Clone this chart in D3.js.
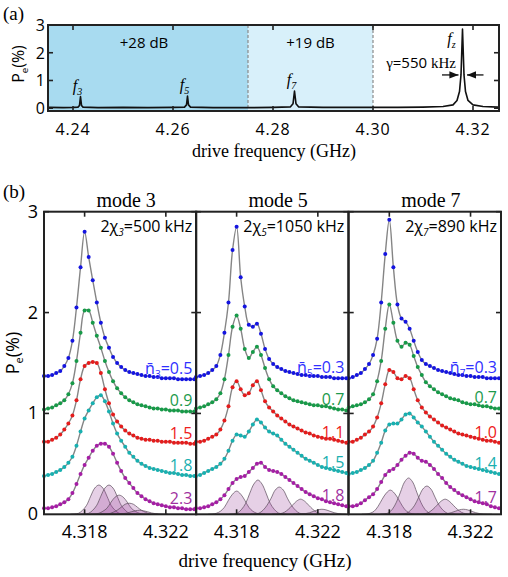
<!DOCTYPE html>
<html>
<head>
<meta charset="utf-8">
<script src="https://cdn.jsdelivr.net/npm/d3@7"></script>
<style>body{margin:0;background:#fff}</style>
</head>
<body>
<div id="container"></div>
<script>
let w = 508;
let h = 577;
let sans = "'Open Sans', sans-serif";
let serif = "'Liberation Serif', serif";

// ---- panel (a): wide sweep ----
let aFreq = [4.2352,4.2380,4.2400,4.2410,4.2413,4.2415,4.2417,4.2420,4.2450,4.2500,4.2550,4.2600,4.2623,4.2627,4.2629,4.2631,4.2635,4.2680,4.2750,4.2800,4.2835,4.2840,4.2843,4.2846,4.2851,4.2900,4.2950,4.3000,4.3050,4.3100,4.3140,4.3160,4.3168,4.3173,4.3176,4.3179,4.3182,4.3185,4.3190,4.3200,4.3220,4.3250];
let aVal  = [0.03,0.02,0.03,0.04,0.10,0.42,0.10,0.04,0.02,0.03,0.02,0.03,0.04,0.12,0.44,0.12,0.04,0.02,0.02,0.03,0.05,0.16,0.62,0.16,0.05,0.03,0.03,0.03,0.03,0.04,0.06,0.12,0.28,0.60,1.20,2.85,1.20,0.60,0.28,0.12,0.06,0.04];
let aXTicks = [4.24, 4.26, 4.28, 4.30, 4.32];
let aYTicks = [0, 1, 2, 3];
let bandEdges = [4.235, 4.275, 4.30];
let bandLabels = ["+28 dB", "+19 dB"];
let peakFreq = [4.2415, 4.2629, 4.2843, 4.3179];
let peakHeight = [0.42, 0.44, 0.62, 2.85];
let peakSub = ["3", "5", "7", "z"];

// ---- panel (b): zoom on f_z for three modes ----
let bFreq = [4.3160,4.3162,4.3164,4.3166,4.3168,4.3170,4.3172,4.3174,4.3176,4.3178,4.3180,4.3182,4.3184,4.3186,4.3188,4.3190,4.3192,4.3194,4.3196,4.3198,4.3200,4.3202,4.3204,4.3206,4.3208,4.3210,4.3212,4.3214,4.3216,4.3218,4.3220,4.3222,4.3224,4.3226,4.3228,4.3230,4.3232,4.3234];
let bXTicks = [4.318, 4.322];
let bYTicks = [1, 2, 3];
let modes = ["3", "5", "7"];
let chiText = ["500", "1050", "890"];
let nbar = [["0.5","0.9","1.5","1.8","2.3"], ["0.3","0.7","1.1","1.5","1.8"], ["0.3","0.7","1.0","1.4","1.7"]];

let mode3 = [
  [1.37,1.37,1.38,1.40,1.42,1.47,1.55,1.72,2.05,2.45,2.80,2.55,2.32,2.10,1.90,1.75,1.65,1.56,1.50,1.46,1.43,1.41,1.40,1.39,1.38,1.37,1.37,1.36,1.36,1.35,1.35,1.35,1.35,1.34,1.34,1.34,1.34,1.34],
  [1.04,1.05,1.06,1.08,1.10,1.13,1.19,1.30,1.52,1.80,2.02,2.02,1.90,1.77,1.65,1.52,1.41,1.32,1.25,1.20,1.16,1.13,1.11,1.09,1.08,1.07,1.06,1.05,1.05,1.04,1.04,1.03,1.03,1.03,1.02,1.02,1.02,1.02],
  [0.72,0.72,0.74,0.76,0.79,0.84,0.90,0.98,1.13,1.34,1.47,1.50,1.51,1.50,1.40,1.24,1.10,0.99,0.92,0.87,0.83,0.80,0.78,0.76,0.75,0.74,0.74,0.73,0.73,0.72,0.72,0.72,0.71,0.71,0.71,0.71,0.70,0.70],
  [0.38,0.39,0.40,0.42,0.44,0.47,0.51,0.57,0.68,0.82,0.95,1.03,1.10,1.16,1.18,1.12,1.02,0.90,0.80,0.73,0.67,0.61,0.57,0.53,0.50,0.48,0.46,0.45,0.44,0.43,0.42,0.41,0.41,0.40,0.39,0.39,0.38,0.38],
  [0.06,0.06,0.07,0.08,0.10,0.12,0.15,0.21,0.30,0.40,0.49,0.56,0.63,0.68,0.70,0.70,0.67,0.60,0.51,0.43,0.36,0.31,0.26,0.21,0.18,0.15,0.13,0.11,0.10,0.09,0.08,0.07,0.07,0.06,0.06,0.05,0.05,0.05]
];
let mode5 = [
  [1.36,1.37,1.38,1.40,1.43,1.47,1.58,1.80,2.10,2.62,2.85,2.35,2.06,1.88,1.86,1.89,1.79,1.64,1.54,1.49,1.46,1.44,1.42,1.41,1.40,1.39,1.38,1.38,1.37,1.37,1.37,1.36,1.36,1.36,1.35,1.35,1.35,1.35],
  [1.05,1.06,1.07,1.09,1.11,1.14,1.20,1.34,1.58,1.86,1.97,1.84,1.64,1.55,1.61,1.66,1.58,1.45,1.34,1.27,1.23,1.20,1.17,1.15,1.13,1.12,1.11,1.10,1.09,1.08,1.08,1.07,1.07,1.06,1.05,1.04,1.04,1.03],
  [0.72,0.72,0.73,0.75,0.77,0.79,0.84,0.93,1.07,1.26,1.32,1.24,1.18,1.20,1.28,1.32,1.23,1.12,1.06,1.02,0.98,0.95,0.92,0.89,0.87,0.85,0.83,0.81,0.80,0.78,0.77,0.76,0.75,0.75,0.74,0.73,0.72,0.71],
  [0.38,0.39,0.41,0.43,0.45,0.47,0.50,0.55,0.63,0.73,0.79,0.78,0.77,0.82,0.89,0.94,0.91,0.86,0.82,0.80,0.78,0.74,0.70,0.67,0.64,0.61,0.58,0.55,0.53,0.51,0.49,0.47,0.46,0.45,0.44,0.43,0.42,0.41],
  [0.06,0.06,0.07,0.08,0.10,0.12,0.15,0.19,0.25,0.31,0.35,0.37,0.38,0.42,0.46,0.50,0.51,0.47,0.44,0.43,0.42,0.40,0.37,0.34,0.31,0.28,0.25,0.22,0.20,0.18,0.16,0.15,0.13,0.12,0.11,0.10,0.09,0.08]
];
let mode7 = [
  [1.35,1.36,1.38,1.40,1.44,1.49,1.58,1.74,2.10,2.58,2.92,2.45,2.08,1.94,1.91,1.84,1.72,1.61,1.53,1.49,1.47,1.45,1.43,1.42,1.41,1.40,1.39,1.38,1.38,1.37,1.37,1.36,1.36,1.36,1.35,1.35,1.35,1.35],
  [1.06,1.07,1.08,1.09,1.11,1.14,1.19,1.32,1.52,1.84,2.08,1.90,1.72,1.66,1.70,1.68,1.57,1.46,1.38,1.31,1.27,1.24,1.21,1.19,1.17,1.15,1.14,1.13,1.11,1.10,1.09,1.09,1.08,1.07,1.07,1.06,1.05,1.05],
  [0.72,0.72,0.74,0.76,0.79,0.82,0.87,0.96,1.10,1.29,1.43,1.41,1.35,1.34,1.37,1.35,1.24,1.13,1.06,1.01,0.97,0.94,0.91,0.88,0.86,0.84,0.82,0.80,0.79,0.78,0.77,0.76,0.75,0.74,0.73,0.73,0.72,0.71],
  [0.40,0.41,0.42,0.44,0.46,0.49,0.53,0.61,0.71,0.83,0.89,0.90,0.90,0.94,0.99,1.00,0.96,0.91,0.87,0.82,0.77,0.72,0.68,0.64,0.60,0.57,0.54,0.52,0.50,0.48,0.47,0.46,0.45,0.44,0.43,0.42,0.41,0.40],
  [0.08,0.08,0.09,0.11,0.14,0.17,0.20,0.25,0.32,0.39,0.43,0.45,0.49,0.54,0.58,0.61,0.60,0.56,0.53,0.52,0.49,0.45,0.40,0.36,0.31,0.27,0.24,0.21,0.19,0.17,0.15,0.13,0.12,0.11,0.10,0.08,0.07,0.06]
];

// fitted number-state components, sampled at offsets (GHz) around each centre
let compOffset = [-0.0014,-0.0012,-0.0010,-0.0008,-0.0006,-0.0004,-0.0002,0,0.0002,0.0004,0.0006,0.0008,0.0010,0.0012,0.0014];
let compCenters = [
  [4.3187, 4.3192, 4.3197, 4.3202, 4.3207],
  [4.3180, 4.31905, 4.3201, 4.32115, 4.3222],
  [4.31805, 4.31895, 4.31985, 4.32075, 4.32165]
];
let compValues = [
  [
    [0,0.003,0.01,0.04,0.09,0.18,0.26,0.29,0.26,0.18,0.09,0.04,0.01,0.003,0],
    [0,0.003,0.01,0.04,0.09,0.18,0.26,0.29,0.26,0.18,0.09,0.04,0.01,0.003,0],
    [0,0.002,0.01,0.03,0.06,0.12,0.17,0.19,0.17,0.12,0.06,0.03,0.01,0.002,0],
    [0,0.001,0.005,0.02,0.04,0.07,0.10,0.11,0.10,0.07,0.04,0.02,0.005,0.001,0],
    [0,0,0.002,0.006,0.013,0.025,0.035,0.04,0.035,0.025,0.013,0.006,0.002,0,0]
  ],
  [
    [0,0.002,0.01,0.03,0.07,0.14,0.20,0.23,0.20,0.14,0.07,0.03,0.01,0.002,0],
    [0,0.003,0.014,0.05,0.11,0.21,0.30,0.34,0.30,0.21,0.11,0.05,0.014,0.003,0],
    [0,0.003,0.011,0.04,0.09,0.16,0.24,0.27,0.24,0.16,0.09,0.04,0.011,0.003,0],
    [0,0.002,0.006,0.02,0.05,0.09,0.13,0.15,0.13,0.09,0.05,0.02,0.006,0.002,0],
    [0,0,0.002,0.007,0.016,0.03,0.044,0.05,0.044,0.03,0.016,0.007,0.002,0,0]
  ],
  [
    [0,0.002,0.01,0.03,0.08,0.15,0.21,0.24,0.21,0.15,0.08,0.03,0.01,0.002,0],
    [0,0.004,0.014,0.05,0.12,0.22,0.32,0.36,0.32,0.22,0.12,0.05,0.014,0.004,0],
    [0,0.003,0.011,0.04,0.09,0.17,0.25,0.28,0.25,0.17,0.09,0.04,0.011,0.003,0],
    [0,0.002,0.006,0.02,0.05,0.09,0.13,0.15,0.13,0.09,0.05,0.02,0.006,0.002,0],
    [0,0,0.002,0.007,0.016,0.03,0.044,0.05,0.044,0.03,0.016,0.007,0.002,0,0]
  ]
];

let traceColors = ["#1414e0", "#179a48", "#e41c1c", "#18b0b0", "#a51ea5"];
let labelColors = ["#3030ff", "#1c9a4c", "#ee2020", "#1ab0b0", "#a030a0"];

let viz = d3.select("#container")
  .append("svg")
  .attr("width", w)
  .attr("height", h)
  .style("background-color", "#fff")
  .style("display", "block");

// ================= panel (a) =================
let aL = 48, aR = 499, aT = 25, aB = 111;
let xA = d3.scaleLinear().domain([4.235, 4.3252]).range([aL, aR]);
let yA = d3.scaleLinear().domain([-0.1, 3]).range([aB, aT]);

let bandFill = ["#a8dbf0", "#d8f0fa"];
for (let i = 0; i < bandLabels.length; i++) {
  viz.append("rect")
    .attr("x", xA(bandEdges[i])).attr("y", aT)
    .attr("width", xA(bandEdges[i + 1]) - xA(bandEdges[i]))
    .attr("height", aB - aT)
    .attr("fill", bandFill[i]);
  viz.append("text")
    .attr("x", (xA(bandEdges[i]) + xA(bandEdges[i + 1])) / 2 - (i == 0 ? 4 : 0))
    .attr("y", 48)
    .attr("text-anchor", "middle")
    .attr("font-family", sans).attr("font-size", "15px")
    .text(bandLabels[i]);
}
// dashed band borders
[bandEdges[1], bandEdges[2]].forEach(f => {
  viz.append("line")
    .attr("x1", xA(f)).attr("x2", xA(f))
    .attr("y1", aT).attr("y2", aB)
    .attr("stroke", "#8a8a8a").attr("stroke-width", 1.2)
    .attr("stroke-dasharray", "3,2");
});

let lineA = d3.line().x((d, i) => xA(aFreq[i])).y(d => yA(d));
viz.append("path")
  .datum(aVal)
  .attr("fill", "none")
  .attr("stroke", "#111")
  .attr("stroke-width", 1.6)
  .attr("stroke-linejoin", "round")
  .attr("d", lineA);

// peak labels
peakFreq.forEach((f, i) => {
  let isZ = peakSub[i] == "z";
  let t = viz.append("text")
    .attr("x", isZ ? xA(f) - 11 : xA(f) - 3)
    .attr("y", isZ ? yA(2.3) : yA(peakHeight[i]) - 6)
    .attr("text-anchor", "middle")
    .attr("font-family", serif).attr("font-style", "italic")
    .attr("font-size", "16px");
  t.append("tspan").text("f");
  t.append("tspan").attr("dy", 4).attr("font-size", "10px").text(peakSub[i]);
});

// linewidth annotation
let gT = viz.append("text")
  .attr("x", 456).attr("y", 68)
  .attr("text-anchor", "end")
  .attr("font-size", "15px");
gT.append("tspan").attr("font-family", serif).text("γ");
gT.append("tspan").attr("font-family", sans).text("=550 ");
gT.append("tspan").attr("font-family", serif).text("kHz");

viz.append("defs").append("marker")
  .attr("id", "arr").attr("viewBox", "0 0 10 10")
  .attr("refX", 10).attr("refY", 5)
  .attr("markerWidth", 7).attr("markerHeight", 7)
  .attr("orient", "auto-start-reverse")
  .append("path").attr("d", "M0,1 L10,5 L0,9 Z").attr("fill", "#111");
let fz = peakFreq[3];
viz.append("line")
  .attr("x1", xA(fz - 0.0041)).attr("x2", xA(fz - 0.0008))
  .attr("y1", yA(1.2)).attr("y2", yA(1.2))
  .attr("stroke", "#111").attr("stroke-width", 1.3)
  .attr("marker-end", "url(#arr)");
viz.append("line")
  .attr("x1", xA(fz + 0.0042)).attr("x2", xA(fz + 0.0009))
  .attr("y1", yA(1.2)).attr("y2", yA(1.2))
  .attr("stroke", "#111").attr("stroke-width", 1.3)
  .attr("marker-end", "url(#arr)");

// frame + ticks
function frame(x0, x1, y0, y1, xs, ys, xT, yT) {
  let g = viz.append("g");
  xT.forEach(v => {
    g.append("line").attr("x1", xs(v)).attr("x2", xs(v)).attr("y1", y1).attr("y2", y1 - 5);
    g.append("line").attr("x1", xs(v)).attr("x2", xs(v)).attr("y1", y0).attr("y2", y0 + 5);
  });
  yT.forEach(v => {
    g.append("line").attr("x1", x0).attr("x2", x0 + 5).attr("y1", ys(v)).attr("y2", ys(v));
    g.append("line").attr("x1", x1).attr("x2", x1 - 5).attr("y1", ys(v)).attr("y2", ys(v));
  });
  g.selectAll("line").attr("stroke", "#222").attr("stroke-width", 1.6);
  g.append("rect")
    .attr("x", x0).attr("y", y0).attr("width", x1 - x0).attr("height", y1 - y0)
    .attr("fill", "none").attr("stroke", "#222").attr("stroke-width", 2);
}
frame(aL, aR, aT, aB, xA, yA, aXTicks, aYTicks);

aXTicks.forEach(v => {
  viz.append("text")
    .attr("x", xA(v)).attr("y", 135)
    .attr("text-anchor", "middle")
    .attr("font-family", sans).attr("font-size", "16px")
    .attr("letter-spacing", "0.8px")
    .text(v.toFixed(2));
});
aYTicks.forEach(v => {
  viz.append("text")
    .attr("x", 45).attr("y", yA(v) + 6)
    .attr("text-anchor", "end")
    .attr("font-family", sans).attr("font-size", "16px")
    .text(v);
});

function peLabel(x, y, size) {
  let t = viz.append("text")
    .attr("transform", "translate(" + x + "," + y + ") rotate(-90)")
    .attr("text-anchor", "middle")
    .attr("font-family", sans).attr("font-size", size + "px");
  t.append("tspan").text("P");
  t.append("tspan").attr("dy", 4).attr("font-size", (size * 0.6) + "px").text("e");
  t.append("tspan").attr("dy", -4).text("(%)");
}
peLabel(24, 64, 16);

viz.append("text")
  .attr("x", 274).attr("y", 157)
  .attr("text-anchor", "middle")
  .attr("font-family", serif).attr("font-size", "18px")
  .text("drive frequency (GHz)");
viz.append("text")
  .attr("x", 3).attr("y", 20)
  .attr("font-family", serif).attr("font-size", "19px")
  .text("(a)");

// ================= panel (b) =================
let bT = 211.7, bB = 514.3;
let panelLeft = [44, 196, 348.7];
let panelW = 152.3;
let yB = d3.scaleLinear().domain([0, 3]).range([bB, bT]);
let allModes = [mode3, mode5, mode7];

allModes.forEach((traces, p) => {
  let x0 = panelLeft[p], x1 = x0 + panelW;
  let xB = d3.scaleLinear().domain([4.316, 4.3235]).range([x0, x1]);
  let g = viz.append("g");

  // components
  let area = d3.area()
    .x(d => xB(d.f))
    .y0(yB(0))
    .y1(d => yB(d.v))
    .curve(d3.curveCatmullRom.alpha(0.5));
  compValues[p].forEach((vals, k) => {
    let pts = vals.map((v, i) => ({ f: compCenters[p][k] + compOffset[i], v: v }))
      .filter(d => d.f <= 4.3235);
    g.append("path")
      .datum(pts)
      .attr("fill", "rgba(150,60,150,0.24)")
      .attr("stroke", "#5a4a5a")
      .attr("stroke-width", 0.7)
      .attr("d", area);
  });

  // traces: fit line + measured dots
  let line = d3.line()
    .x((d, i) => xB(bFreq[i]))
    .y(d => yB(d))
    .curve(d3.curveCatmullRom.alpha(0.5));
  traces.forEach((vals, k) => {
    g.append("path")
      .datum(vals)
      .attr("fill", "none")
      .attr("stroke", "#858585")
      .attr("stroke-width", 1.4)
      .attr("d", line);
    g.selectAll(".dot" + k)
      .data(vals)
      .enter()
      .append("circle")
      .attr("cx", (d, i) => xB(bFreq[i]))
      .attr("cy", d => yB(d))
      .attr("r", 2)
      .attr("fill", traceColors[k]);

    let t = g.append("text")
      .attr("x", x1 - 4)
      .attr("y", yB(vals[vals.length - 1]) - 5)
      .attr("text-anchor", "end")
      .attr("font-family", sans).attr("font-size", "16px")
      .attr("fill", labelColors[k]);
    if (k == 0) {
      t.append("tspan").text("n\u0304");
      t.append("tspan").attr("dy", 4).attr("font-size", "10px").text(modes[p]);
      t.append("tspan").attr("dy", -4).text("=" + nbar[p][k]);
    } else {
      t.text(nbar[p][k]);
    }
  });

  frame(x0, x1, bT, bB, xB, yB, bXTicks, bYTicks);

  bXTicks.forEach(v => {
    viz.append("text")
      .attr("x", xB(v)).attr("y", 538)
      .attr("text-anchor", "middle")
      .attr("font-family", sans).attr("font-size", "18px")
      .text(v.toFixed(3));
  });

  viz.append("text")
    .attr("x", (x0 + x1) / 2 + 6).attr("y", 207)
    .attr("text-anchor", "middle")
    .attr("font-family", serif).attr("font-size", "20px")
    .text("mode " + modes[p]);

  let c = viz.append("text")
    .attr("x", x1 - 4).attr("y", 232)
    .attr("text-anchor", "end")
    .attr("font-family", sans).attr("font-size", "16px");
  c.append("tspan").text("2χ");
  c.append("tspan").attr("dy", 4).attr("font-size", "10px").attr("font-style", "italic").text(modes[p]);
  c.append("tspan").attr("dy", -4).text("=" + chiText[p] + " kHz");
});

[0, 1, 2, 3].forEach(v => {
  viz.append("text")
    .attr("x", 38).attr("y", yB(v) + 6)
    .attr("text-anchor", "end")
    .attr("font-family", sans).attr("font-size", "18px")
    .text(v);
});
peLabel(19, 353, 18);

viz.append("text")
  .attr("x", 265).attr("y", 567)
  .attr("text-anchor", "middle")
  .attr("font-family", serif).attr("font-size", "19px")
  .text("drive frequency (GHz)");
viz.append("text")
  .attr("x", 3).attr("y", 198)
  .attr("font-family", serif).attr("font-size", "19px")
  .text("(b)");
</script>
</body>
</html>
